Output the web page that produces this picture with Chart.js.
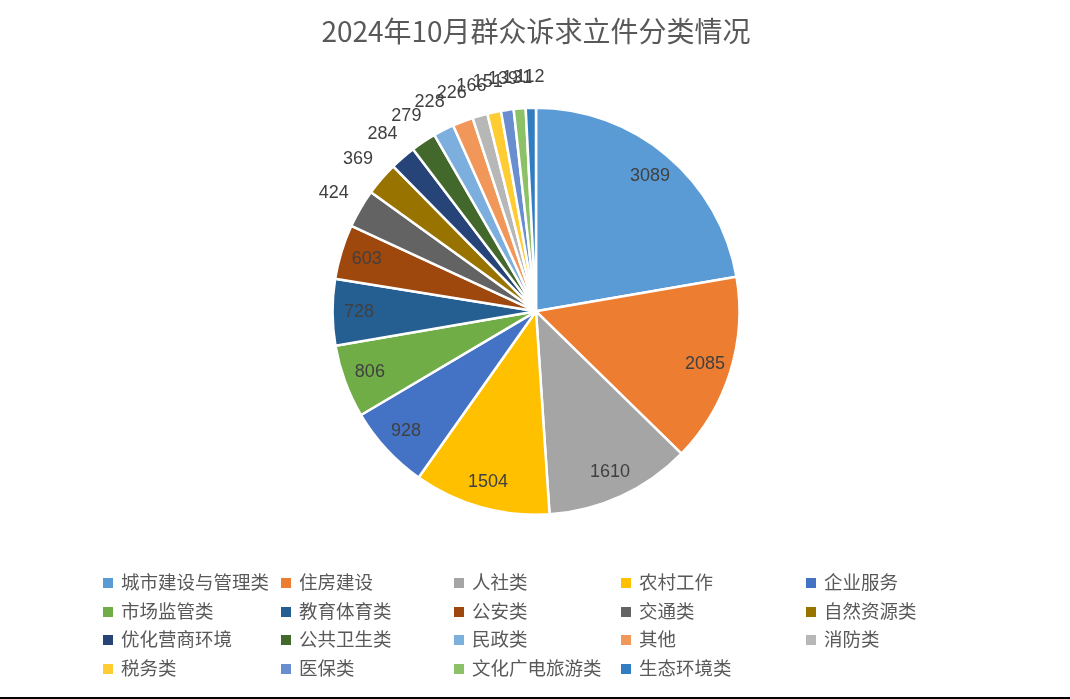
<!DOCTYPE html>
<html>
<head>
<meta charset="utf-8">
<script src="https://cdn.jsdelivr.net/npm/chart.js@4.4.1/dist/chart.umd.min.js"></script>
<style>
  html, body { margin: 0; padding: 0; background: #fff; }
  #wrap { position: relative; width: 1070px; height: 699px; box-sizing: border-box; border-bottom: 2px solid #000; }
  #pie { position: absolute; left: 0; top: 0; }
  #legend { position: absolute; left: 0; top: 567px; width: 1070px; }
  .item { position: absolute; height: 28px; line-height: 28px; font-family: "Noto Sans CJK SC"; font-size: 18.5px; color: #595959; white-space: nowrap; }
  .item i { display: inline-block; width: 10px; height: 10px; margin-right: 8px; vertical-align: 1px; }
</style>
</head>
<body>
<div id="wrap">
  <canvas id="pie" width="1070" height="697"></canvas>
  <div id="legend"></div>
</div>
<script>
// 数据
const titulo = "2024年10月群众诉求立件分类情况";

const categorias = [
  "城市建设与管理类", "住房建设", "人社类", "农村工作", "企业服务",
  "市场监管类", "教育体育类", "公安类", "交通类", "自然资源类",
  "优化营商环境", "公共卫生类", "民政类", "其他", "消防类",
  "税务类", "医保类", "文化广电旅游类", "生态环境类"
];

const valores = [
  3089, 2085, 1610, 1504, 928,
  806, 728, 603, 424, 369,
  284, 279, 228, 226, 166,
  151, 139, 131, 112
];

const cores = [
  "#5B9BD5", "#ED7D31", "#A5A5A5", "#FFC000", "#4472C4",
  "#70AD47", "#255E91", "#9E480E", "#636363", "#997300",
  "#264478", "#43682B", "#7CAFDD", "#F1975A", "#B7B7B7",
  "#FFCD33", "#698ED0", "#8CC168", "#327DC2"
];

// ROTULOS NAS FATIAS
const rotulos = {
  id: "rotulos",
  afterDatasetsDraw(chart) {
    const ctx = chart.ctx;
    const meta = chart.getDatasetMeta(0);
    ctx.save();
    ctx.font = "18px 'Liberation Sans'";
    ctx.fillStyle = "#404040";
    ctx.textAlign = "center";
    ctx.textBaseline = "middle";
    meta.data.forEach((arc, i) => {
      const p = arc.getProps(["x", "y", "startAngle", "endAngle", "outerRadius"], true);
      const meio = (p.startAngle + p.endAngle) / 2;
      const fora = valores[i] <= 450;
      const d = fora ? p.outerRadius + 31 : p.outerRadius * 0.87;
      ctx.fillText(String(valores[i]), p.x + Math.cos(meio) * d, p.y + Math.sin(meio) * d);
    });
    ctx.restore();
  }
};

const grafico = new Chart(document.getElementById("pie"), {
  type: "pie",
  data: {
    labels: categorias,
    datasets: [{
      data: valores,
      backgroundColor: cores,
      borderColor: "#ffffff",
      borderWidth: 2.5
    }]
  },
  options: {
    responsive: false,
    animation: false,
    layout: { padding: { top: 0, bottom: 181, left: 2, right: 0 } },
    plugins: {
      legend: { display: false },
      tooltip: { enabled: false },
      title: {
        display: true,
        text: titulo,
        color: "#595959",
        font: { family: "Noto Sans CJK SC", size: 28, weight: "normal" },
        padding: { top: 15, bottom: 58 }
      }
    }
  },
  plugins: [rotulos]
});

// LEGENDA (5 colunas como no Excel)
const colunas = [103, 281, 454, 621, 806];
const legenda = document.getElementById("legend");
categorias.forEach((nome, i) => {
  const div = document.createElement("div");
  div.className = "item";
  div.style.left = colunas[i % 5] + "px";
  div.style.top = (Math.floor(i / 5) * 28.5) + "px";
  div.innerHTML = `<i style="background:${cores[i]}"></i>${nome}`;
  legenda.appendChild(div);
});
</script>
</body>
</html>
